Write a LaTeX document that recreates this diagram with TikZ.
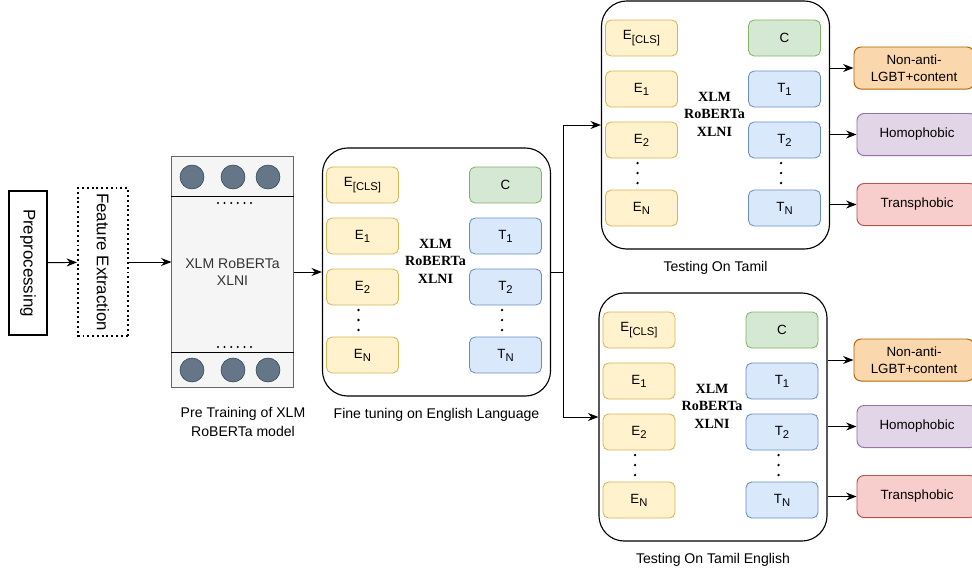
\documentclass[tikz,border=0pt]{standalone}
\usepackage{fontspec}
\setmainfont{Liberation Sans}
\newfontfamily\xlmserif{Liberation Serif}
\usepackage{tikz}
\usetikzlibrary{
    arrows.meta,
    positioning,
    calc
}
\definecolor{embFill}{HTML}{FFF2CC}
\definecolor{embLine}{HTML}{D6B656}
\definecolor{clsFill}{HTML}{D5E8D4}
\definecolor{clsLine}{HTML}{82B366}
\definecolor{tokFill}{HTML}{DAE8FC}
\definecolor{tokLine}{HTML}{6C8EBF}
\definecolor{nonFill}{HTML}{FAD7AC}
\definecolor{nonLine}{HTML}{B46504}
\definecolor{homFill}{HTML}{E1D5E7}
\definecolor{homLine}{HTML}{9673A6}
\definecolor{traFill}{HTML}{F8CECC}
\definecolor{traLine}{HTML}{B85450}
\definecolor{modFill}{HTML}{F5F5F5}
\definecolor{modLine}{HTML}{666666}
\definecolor{unitFill}{HTML}{647687}
\definecolor{unitLine}{HTML}{314354}

\newcommand\boxfont{\fontsize{9.5}{12}\selectfont}
\newcommand\capfont{\fontsize{10}{13.5}\selectfont}
\newcommand\idx[1]{\raisebox{-0.45ex}{\fontsize{8}{8}\selectfont #1}}

\tikzset{
  emb/.style     = {draw=embLine, fill=embFill, rounded corners=4pt, line width=0.6pt,
                    minimum width=1.8cm, minimum height=0.9cm, font=\boxfont},
  clsbox/.style  = {emb, draw=clsLine, fill=clsFill},
  tok/.style     = {emb, draw=tokLine, fill=tokFill},
  outbox/.style  = {draw, rounded corners=5pt, line width=0.7pt, align=center,
                    minimum width=3cm, minimum height=1.05cm, font=\boxfont},
  arr/.style     = {-{Stealth[length=2.6mm, width=2mm]}, line width=0.7pt},
  lbl/.style     = {align=center, font=\capfont}
}

\begin{document}
\begin{tikzpicture}[
    x=0.025cm, y=-0.025cm,
    prepbox/.style={draw, line width=1.4pt, minimum width=3.6cm, minimum height=0.95cm,
      font=\fontsize{12}{14}\selectfont},
    featbox/.style={draw, dotted, line width=1.4pt, minimum width=3.65cm, minimum height=1.25cm,
      font=\fontsize{12}{14}\selectfont},
    model/.style={draw=modLine, fill=modFill, line width=0.7pt, minimum width=3.025cm,
      minimum height=5.75cm, align=center, text=black!80, font=\fontsize{10}{12.5}\selectfont},
    unit/.style={circle, draw=unitLine, fill=unitFill, minimum size=0.6cm, inner sep=0pt},
    panel/.style={draw, line width=0.8pt, rounded corners=18pt,
      minimum width=5.7cm, minimum height=6.2cm},
    core/.style={align=center, font=\xlmserif\bfseries\fontsize{10}{12.5}\selectfont}
  ]
    \useasboundingbox (0,0) rectangle (972,574);
    \clip (0,0) rectangle (972,574);

    \node[prepbox, rotate=-90] (prep) at (28,263) {Preprocessing};
    \node[featbox, rotate=-90] (feat) at (103,262) {Feature Extraction};

    \node[model] (xlm) at (232.5,272) {XLM RoBERTa\\XLNI};
    \draw[line width=0.7pt] (xlm.west |- 0,196) -- (xlm.east |- 0,196);
    \draw[line width=0.7pt] (xlm.west |- 0,352) -- (xlm.east |- 0,352);
    \foreach \x in {192,233,268} {
      \node[unit] (nt\x) at (\x,177) {};
      \node[unit] (nb\x) at (\x,370) {};
    }
    \foreach \i in {0,...,5} {
      \fill (218+6.6*\i,203) circle (0.8pt);
      \fill (218+6.6*\i,347) circle (0.8pt);
    }
    \node[lbl] (ptcap) at (243,422) {Pre Training of XLM\\RoBERTa model};

    \foreach \p/\cx/\cy/\capt in {fine/436.5/272/{Fine tuning on English Language},
        tamil/715.5/125/{Testing On Tamil}, tamen/713/417/{Testing On Tamil English}} {
      \node[panel] (\p) at (\cx,\cy) {};
      \node[emb] (\p-ecls) at ({\cx-74},{\cy-87}) {E\idx{[CLS]}};
      \node[emb] (\p-e1) at ({\cx-74},{\cy-36}) {E\idx{1}};
      \node[emb] (\p-e2) at ({\cx-74},{\cy+15}) {E\idx{2}};
      \node[emb] (\p-en) at ({\cx-74},{\cy+83}) {E\idx{N}};
      \node[clsbox] (\p-c) at ({\cx+69},{\cy-87}) {C};
      \node[tok] (\p-t1) at ({\cx+69},{\cy-36}) {T\idx{1}};
      \node[tok] (\p-t2) at ({\cx+69},{\cy+15}) {T\idx{2}};
      \node[tok] (\p-tn) at ({\cx+69},{\cy+83}) {T\idx{N}};
      \node[core] (\p-core) at ({\cx-1},{\cy-11}) {XLM\\RoBERTa\\XLNI};
      \foreach \d in {38,48,58} {
        \fill ({\cx-78},{\cy+\d}) circle (0.9pt);
        \fill ({\cx+65.5},{\cy+\d}) circle (0.9pt);
      }
      \node[lbl] (\p-cap) at (\cx,{\cy+143}) {\capt};
    }

    \foreach \p/\cy in {tamil/125, tamen/417} {
      \node[outbox, fill=nonFill, draw=nonLine] (\p-non) at (914,{\cy-57}) {Non-anti-\\LGBT+content};
      \node[outbox, fill=homFill, draw=homLine] (\p-hom) at (917,{\cy+9.5}) {Homophobic};
      \node[outbox, fill=traFill, draw=traLine] (\p-tra) at (917,{\cy+79.5}) {Transphobic};
      \foreach \c in {non,hom,tra}
        \draw[arr] (\p.east |- \p-\c) -- (\p-\c);
    }

    \coordinate (split) at (563,272);
    \draw[arr] (prep) -- (feat);
    \draw[arr] (feat) -- (feat -| xlm.west);
    \draw[arr] (xlm) -- (fine);
    \draw[line width=0.7pt] (fine) -- (split);
    \draw[arr] (split) |- (tamil);
    \draw[arr] (split) |- (tamen);
  \end{tikzpicture}
\end{document}
